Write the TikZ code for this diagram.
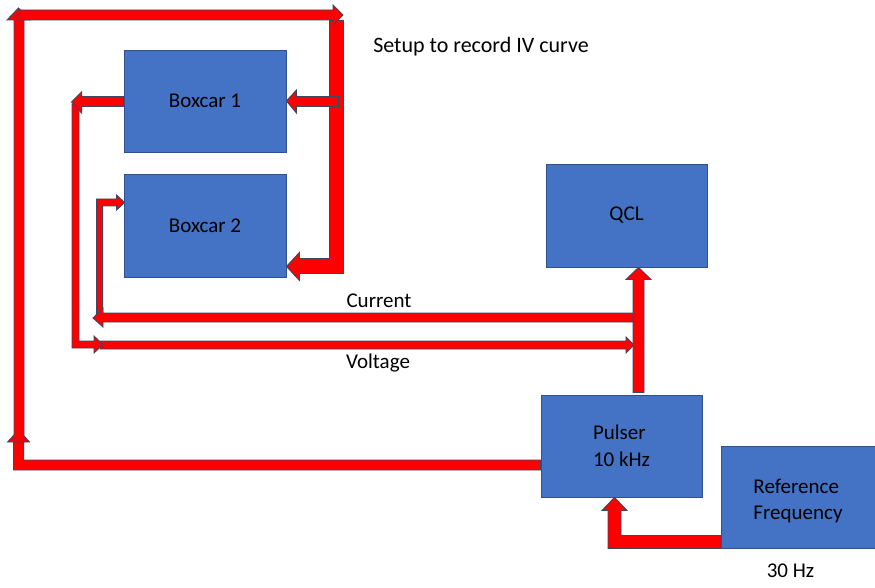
\documentclass[tikz,border=0pt]{standalone}
\usepackage{fontspec}
\setmainfont{Carlito}
\usetikzlibrary{calc}
\definecolor{boxfill}{HTML}{4472C4}
\definecolor{boxedge}{HTML}{2F528F}
\definecolor{arredge}{HTML}{3C4766}
\definecolor{arrfill}{HTML}{FF0000}
\pgfdeclarelayer{paper}
\pgfdeclarelayer{bg}
\pgfsetlayers{paper,bg,main}
\begin{document}
\begin{tikzpicture}[x=1pt,y=-1pt,
  box/.style={draw=boxedge, line width=0.9pt, fill=boxfill, inner sep=0pt,
    font=\fontsize{21}{27}\selectfont, text=black},
  blk/.style={fill=arrfill, draw=arredge, line width=0.9pt, line join=miter},
  lbl/.style={font=\fontsize{21}{26}\selectfont, text=black, inner sep=0pt}]
\useasboundingbox (0,0) rectangle (875,588);
\begin{pgfonlayer}{paper}
\fill[white] (0,0) rectangle (875,588);
\end{pgfonlayer}

% boxes
\node[box, minimum width=162pt, minimum height=102pt] (b1) at (205,101) {Boxcar 1};
\node[box, minimum width=162pt, minimum height=103pt] (b2) at (205,225.5) {Boxcar 2};
\node[box, minimum width=161pt, minimum height=103pt] (qcl) at (626.5,215.5) {QCL};
\node[box, minimum width=161pt, minimum height=102pt, align=left] (pul) at (621.5,446) {Pulser\\10 kHz};
\node[box, minimum width=156pt, minimum height=102pt] (ref) at (799,497) {};
\node[lbl, align=left] (reftext) at ($(ref.center)+(-1,4)$) {Reference\\Frequency};

% texts
\node[lbl, anchor=base, font=\fontsize{22}{26}\selectfont] (title) at (481,53) {Setup to record IV curve};
\node[lbl, anchor=base] (cur) at (379,307) {Current};
\node[lbl, anchor=base] (vol) at (378,368) {Voltage};
\node[lbl, anchor=base] (hz) at (790.5,577) {30 Hz};

% free corner points
\coordinate (topright) at (343,15);
\coordinate (topleft) at (18.5,8);
\coordinate (curtip) at (93,318);
\coordinate (voltop) at (72,104);
\coordinate (voltail) at (100,341);

\begin{pgfonlayer}{bg}
% pulser -> left, up
\draw[blk] ($(pul.west)+(0,14)$) -- ++(0,10) -- ++(-527,0) -- ++(0,-28) -- ++(-6,0)
  -- ++(11,-12) -- ++(11,12) -- ++(-6,0) -- ++(0,18) -- cycle;
% left vertical up
\draw[blk] (topleft) -- ++(11.5,12) -- ++(-6,0) -- ++(0,422) -- ++(-10,0)
  -- ++(0,-422) -- ++(-7,0) -- cycle;
% right bent down to Boxcar 2
\draw[blk] ($(b2.south east)+(0,-11)$) -- ++(13,-14) -- ++(0,6) -- ++(30,0)
  -- ++(0,-238) -- ++(14,0) -- ++(0,253) -- ++(-44,0) -- ++(0,7) -- cycle;
% top horizontal
\draw[blk] (topright) -- ++(-10,-10) -- ++(0,5) -- ++(-315,0) -- ++(0,10)
  -- ++(315,0) -- ++(0,5) -- cycle;
% into Boxcar 1 from right
\draw[blk] (b1.east) -- ++(10,-11) -- ++(0,6.5) -- ++(42,0) -- ++(0,10)
  -- ++(-42,0) -- ++(0,6.5) -- cycle;
% current: up into Boxcar 2
\draw[blk] ($(b2.west)+(1,-23)$) -- ++(-8,7.5) -- ++(0,-4) -- ++(-14,0)
  -- ++(0,112) -- ++(-6,0) -- ++(0,-119) -- ++(20,0) -- ++(0,-4) -- cycle;
% current: long line to the left
\draw[blk] (curtip) -- ++(10,-10) -- ++(0,5) -- ++(530,0) -- ++(0,9)
  -- ++(-530,0) -- ++(0,5) -- cycle;
% voltage: long line to the right
\draw[blk] (voltail) -- ++(526,0) -- ++(0,-4) -- ++(8,8) -- ++(-8,8)
  -- ++(0,-4) -- ++(-526,0) -- cycle;
% voltage: down and right
\draw[blk] (voltop) -- ++(0,244) -- ++(22,0) -- ++(0,5) -- ++(9,-8.5)
  -- ++(-9,-8.5) -- ++(0,5) -- ++(-15,0) -- ++(0,-237) -- cycle;
% out of Boxcar 1 to the left
\draw[blk] ($(b1.west)+(0,-4.5)$) -- ++(0,10) -- ++(-42,0) -- ++(0,6.5)
  -- ++(-10,-11) -- ++(10,-10) -- ++(0,4.5) -- cycle;
% reference -> pulser
\draw[blk] ($(pul.south)+(-7,0)$) -- ++(12.5,13) -- ++(-6,0) -- ++(0,25)
  -- ++(100,0) -- ++(0,13) -- ++(-113,0) -- ++(0,-38) -- ++(-6,0) -- cycle;
% pulser -> QCL
\draw[blk] ($(qcl.south)+(12,0)$) -- ++(12.5,12) -- ++(-7,0) -- ++(0,113)
  -- ++(-11,0) -- ++(0,-113) -- ++(-7,0) -- cycle;
\end{pgfonlayer}
\end{tikzpicture}
\end{document}
